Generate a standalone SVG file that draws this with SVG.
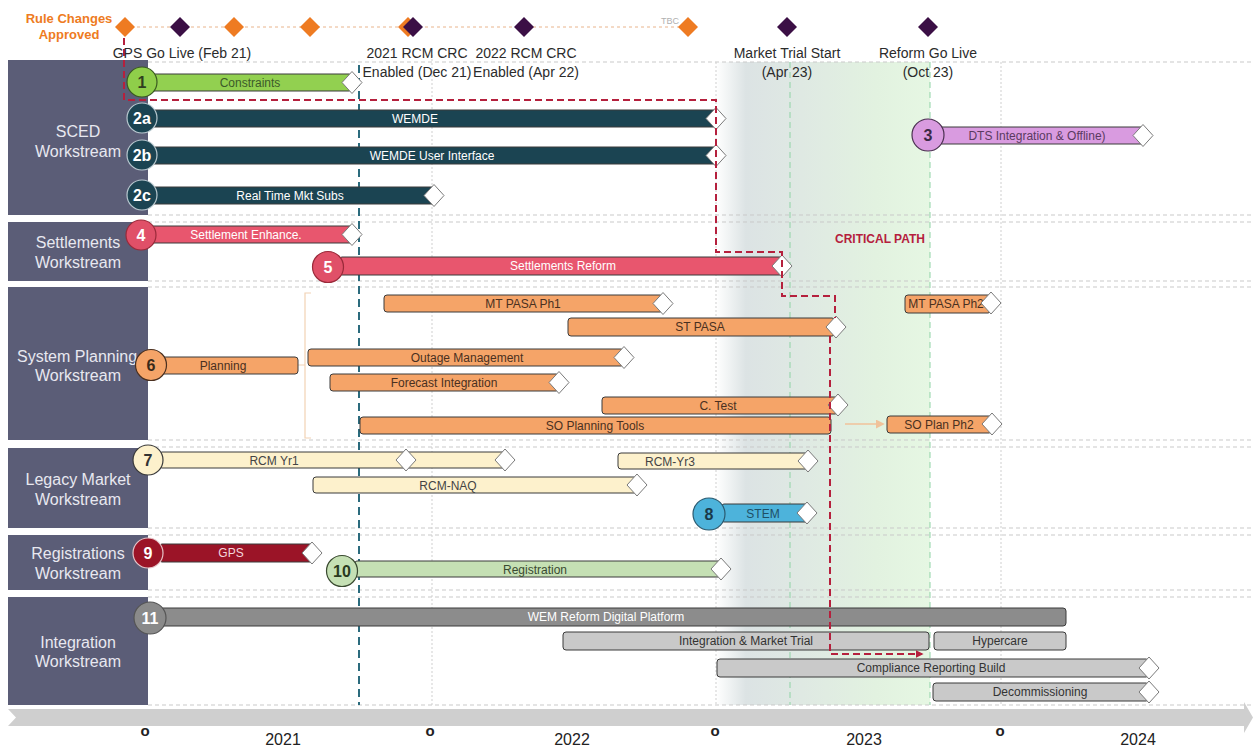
<svg xmlns="http://www.w3.org/2000/svg" width="1253" height="746" viewBox="0 0 1253 746">
<style>
text{font-family:"Liberation Sans",Arial,sans-serif}
.panel{fill:#5b5d77}
.ptxt{fill:#e8e8f0;font-size:16px;text-anchor:middle}
.grid{stroke:#c9c9c9;stroke-width:1;stroke-dasharray:4 3;fill:none}
.vgrid{stroke:#cfcfcf;stroke-width:1;stroke-dasharray:2 2;fill:none}
.gline{stroke:#8fd3a6;stroke-width:1;stroke-dasharray:6 4;fill:none}
.teal{stroke:#2b6b7d;stroke-width:2;stroke-dasharray:8 5;fill:none}
.bar{stroke:#3a3a3a;stroke-width:1}
.btxt{font-size:12px;text-anchor:middle}
.num{font-size:16px;font-weight:bold;text-anchor:middle}
.end{fill:#fff;stroke:#7a7a7a;stroke-width:1}
.ms{font-size:14px;fill:#2b2b2b;text-anchor:middle}
.crit{stroke:#b5203d;stroke-width:2;stroke-dasharray:7 4;fill:none}
.orange{fill:#ee7b22}
.purple{fill:#3b0f45}
.yr{font-size:16px;fill:#222;text-anchor:middle}
.tick{font-size:15px;font-weight:bold;fill:#222;text-anchor:middle}
.green{fill:#92d050}
.teald{fill:#1b4452}
.violet{fill:#d99be0}
.pink{fill:#e8566e}
.org{fill:#f5a468}
.cream{fill:#fdf1cc}
.sky{fill:#4db3db}
.maroon{fill:#9b1427}
.lgreen{fill:#c5e0b4}
.dgray{fill:#8c8c8c}
.lgray{fill:#c9c9c9}
</style>
<defs>
<linearGradient id="sh" x1="0" y1="0" x2="1" y2="0">
<stop offset="0" stop-color="#ffffff"/>
<stop offset="0.14" stop-color="#dce3e4"/>
<stop offset="0.4" stop-color="#dfe9e3"/>
<stop offset="0.75" stop-color="#e2f2e0"/>
<stop offset="1" stop-color="#e6f7e3"/>
</linearGradient>
<polygon id="dia" class="end" points="-10,0 0,-11 10,0 0,11"/>
<polygon id="mdia" points="-10,0 0,-10 10,0 0,10"/>
<marker id="ar" viewBox="0 0 10 10" refX="8" refY="5" markerWidth="4" markerHeight="4" orient="auto"><path d="M0,0 L10,5 L0,10z" fill="#b5203d"/></marker>
<marker id="ar2" viewBox="0 0 10 10" refX="8" refY="5" markerWidth="6" markerHeight="6" orient="auto"><path d="M0,0 L10,5 L0,10z" fill="#f0c29a"/></marker>
</defs>

<rect width="1253" height="746" fill="#ffffff"/>
<rect x="716" y="62" width="214" height="643" fill="url(#sh)"/>

<g id="gridlines">
<path class="grid" d="M148,62H1253M148,215H1253M148,222H1253M148,281H1253M148,287H1253M148,440H1253M148,447H1253M148,528H1253M148,535H1253M148,590H1253M148,597H1253M148,705H1253"/>
<path class="vgrid" d="M432,55V705M716,62V705M1001,62V705"/>
<path class="gline" d="M790,62V705M930,62V705"/>
<path class="teal" d="M359,65V705"/>
</g>

<g id="timeline">
<polygon points="8,709 1244,709 1244,702 1253,717.5 1244,733 1244,726 8,726 16,717.5" fill="#cfcfcf"/>
<text class="tick" x="145" y="736">o</text>
<text class="tick" x="430" y="736">o</text>
<text class="tick" x="715" y="736">o</text>
<text class="tick" x="1000" y="736">o</text>
<text class="yr" x="283" y="745">2021</text>
<text class="yr" x="572" y="745">2022</text>
<text class="yr" x="864" y="745">2023</text>
<text class="yr" x="1138" y="745">2024</text>
</g>

<g id="ws-sced"><rect class="panel" x="8" y="60" width="140" height="155"/><text class="ptxt" x="78" y="136.5">SCED</text><text class="ptxt" x="78" y="156.5">Workstream</text></g>
<g id="ws-settlements"><rect class="panel" x="8" y="222" width="140" height="59"/><text class="ptxt" x="78" y="248">Settlements</text><text class="ptxt" x="78" y="268">Workstream</text></g>
<g id="ws-planning"><rect class="panel" x="8" y="287" width="140" height="153"/><text class="ptxt" x="77" y="362">System Planning</text><text class="ptxt" x="78" y="381">Workstream</text></g>
<g id="ws-legacy"><rect class="panel" x="8" y="448" width="140" height="80"/><text class="ptxt" x="78" y="485">Legacy Market</text><text class="ptxt" x="78" y="505">Workstream</text></g>
<g id="ws-registrations"><rect class="panel" x="8" y="535" width="140" height="55"/><text class="ptxt" x="78" y="559">Registrations</text><text class="ptxt" x="78" y="579">Workstream</text></g>
<g id="ws-integration"><rect class="panel" x="8" y="597" width="140" height="108"/><text class="ptxt" x="78" y="648">Integration</text><text class="ptxt" x="78" y="667">Workstream</text></g>

<g id="n1"><rect class="bar green" x="148" y="74" width="204" height="17" rx="3"/><text class="btxt" x="250" y="86.5" fill="#3d5a2a">Constraints</text><use href="#dia" x="352" y="82.5"/><circle cx="142" cy="82" r="15" fill="#8fce4a" stroke="#3a5a20" stroke-width="1.2"/><text class="num" x="142" y="88" fill="#2f3f20">1</text></g>
<g id="n2a"><rect class="bar teald" x="148" y="110" width="568" height="17" rx="2"/><text class="btxt" x="415" y="122.5" fill="#ffffff">WEMDE</text><use href="#dia" x="716" y="118.5"/><circle cx="142" cy="118" r="15" fill="#1b4452" stroke="#b8c8cf" stroke-width="1.2"/><text class="num" x="142" y="124" fill="#ffffff">2a</text></g>
<g id="n2b"><rect class="bar teald" x="148" y="147" width="568" height="17" rx="2"/><text class="btxt" x="432" y="159.5" fill="#ffffff">WEMDE User Interface</text><use href="#dia" x="716" y="155.5"/><circle cx="142" cy="155" r="15" fill="#1b4452" stroke="#b8c8cf" stroke-width="1.2"/><text class="num" x="142" y="161" fill="#ffffff">2b</text></g>
<g id="n2c"><rect class="bar teald" x="148" y="187" width="286" height="17" rx="2"/><text class="btxt" x="290" y="199.5" fill="#ffffff">Real Time Mkt Subs</text><use href="#dia" x="434" y="195.5"/><circle cx="142" cy="195" r="15" fill="#1b4452" stroke="#b8c8cf" stroke-width="1.2"/><text class="num" x="142" y="201" fill="#ffffff">2c</text></g>
<g id="n3"><rect class="bar violet" x="940" y="127" width="203" height="17" rx="2"/><text class="btxt" x="1037" y="139.5" fill="#5a3a60">DTS Integration &amp; Offline)</text><use href="#dia" x="1143" y="135.5"/><circle cx="928" cy="135" r="16" fill="#d99be0" stroke="#4a3050" stroke-width="1.2"/><text class="num" x="928" y="141" fill="#3a2a45">3</text></g>

<g id="n4"><rect class="bar pink" x="148" y="226" width="204" height="17" rx="2"/><text class="btxt" x="246" y="238.5" fill="#ffffff">Settlement Enhance.</text><use href="#dia" x="352" y="234.5"/><circle cx="141" cy="235" r="15" fill="#e05068" stroke="#9a2a3a" stroke-width="1.2"/><text class="num" x="141" y="241" fill="#ffffff">4</text></g>
<g id="n5"><rect class="bar pink" x="340" y="257" width="442" height="18" rx="2"/><text class="btxt" x="563" y="270" fill="#ffffff">Settlements Reform</text><use href="#dia" x="782" y="266"/><circle cx="328" cy="267" r="15.5" fill="#e05068" stroke="#9a2a3a" stroke-width="1.2"/><text class="num" x="328" y="273" fill="#ffffff">5</text></g>

<g id="n6"><path d="M298,365H305M311,293H305V438H311" fill="none" stroke="#f2d2b4" stroke-width="1.2"/><rect class="bar org" x="160" y="357" width="138" height="17" rx="3"/><text class="btxt" x="223" y="369.5" fill="#4a3020">Planning</text><circle cx="151" cy="365" r="15.5" fill="#f5a468" stroke="#4a3020" stroke-width="1.2"/><text class="num" x="151" y="371" fill="#3a2a1a">6</text></g>
<g id="mtpasa1"><rect class="bar org" x="384" y="295" width="279" height="17" rx="3"/><text class="btxt" x="523" y="307.5" fill="#4a3020">MT PASA Ph1</text><use href="#dia" x="663" y="303.5"/></g>
<g id="stpasa"><rect class="bar org" x="568" y="318" width="267" height="18" rx="3"/><text class="btxt" x="700" y="331" fill="#4a3020">ST PASA</text><use href="#dia" x="836" y="327"/></g>
<g id="outage"><rect class="bar org" x="308" y="349" width="316" height="17" rx="3"/><text class="btxt" x="467" y="361.5" fill="#4a3020">Outage Management</text><use href="#dia" x="624" y="357.5"/></g>
<g id="forecast"><rect class="bar org" x="330" y="374" width="229" height="17" rx="3"/><text class="btxt" x="444" y="386.5" fill="#4a3020">Forecast Integration</text><use href="#dia" x="559" y="382.5"/></g>
<g id="ctest"><rect class="bar org" x="602" y="397" width="236" height="17" rx="3"/><text class="btxt" x="718" y="409.5" fill="#4a3020">C. Test</text><use href="#dia" x="838" y="405"/></g>
<g id="soplan"><rect class="bar org" x="360" y="417" width="471" height="17" rx="3"/><text class="btxt" x="595" y="429.5" fill="#4a3020">SO Planning Tools</text></g>
<g id="mtpasa2"><rect class="bar org" x="905" y="295" width="86" height="18" rx="3"/><text class="btxt" x="946" y="308" fill="#4a3020">MT PASA Ph2</text><use href="#dia" x="991" y="303"/></g>
<g id="soplan2"><rect class="bar org" x="887" y="416" width="105" height="17" rx="3"/><text class="btxt" x="939" y="428.5" fill="#4a3020">SO Plan Ph2</text><use href="#dia" x="992" y="424"/></g>

<g id="n7"><rect class="bar cream" x="160" y="452" width="345" height="16" rx="2"/><text class="btxt" x="274" y="464.5" fill="#444444">RCM Yr1</text><use href="#dia" x="406" y="460"/><use href="#dia" x="505" y="460"/><circle cx="148" cy="460" r="15" fill="#fdf1cc" stroke="#3a3a3a" stroke-width="1.2"/><text class="num" x="148" y="466" fill="#333333">7</text></g>
<g id="rcmnaq"><rect class="bar cream" x="313" y="477" width="324" height="16" rx="3"/><text class="btxt" x="448" y="489.5" fill="#444444">RCM-NAQ</text><use href="#dia" x="637" y="485"/></g>
<g id="rcmyr3"><rect class="bar cream" x="618" y="453" width="190" height="16" rx="3"/><text class="btxt" x="670" y="465.5" fill="#444444">RCM-Yr3</text><use href="#dia" x="808" y="461"/></g>
<g id="n8"><rect class="bar sky" x="722" y="504" width="85" height="18" rx="2"/><text class="btxt" x="763" y="517.5" fill="#1f4f66">STEM</text><use href="#dia" x="807" y="513"/><circle cx="709" cy="514" r="16" fill="#4db3db" stroke="#2a5a70" stroke-width="1.2"/><text class="num" x="709" y="520" fill="#1a3a4a">8</text></g>

<g id="n9"><rect class="bar maroon" x="160" y="544" width="152" height="18" rx="2"/><text class="btxt" x="231" y="557" fill="#f3d6dc">GPS</text><use href="#dia" x="312" y="553"/><circle cx="148" cy="553" r="15" fill="#9b1427" stroke="#e6c4c8" stroke-width="1.2"/><text class="num" x="148" y="559" fill="#ffffff">9</text></g>
<g id="n10"><rect class="bar lgreen" x="355" y="561" width="365" height="16" rx="2"/><text class="btxt" x="535" y="573.5" fill="#3a4a30">Registration</text><use href="#dia" x="721" y="569"/><circle cx="342" cy="571" r="15.5" fill="#c5e0b4" stroke="#3a4a30" stroke-width="1.2"/><text class="num" x="342" y="577" fill="#2a3a20">10</text></g>

<g id="n11"><rect class="bar dgray" x="160" y="608" width="906" height="18" rx="3"/><text class="btxt" x="606" y="621" fill="#ffffff">WEM Reform Digital Platform</text><circle cx="150" cy="618" r="16" fill="#8a8a8a" stroke="#555555" stroke-width="1.2"/><text class="num" x="150" y="624" fill="#ffffff">11</text></g>
<g id="intmt"><rect class="bar lgray" x="563" y="632" width="366" height="18" rx="3"/><text class="btxt" x="746" y="645" fill="#333333">Integration &amp; Market Trial</text></g>
<g id="hypercare"><rect class="bar lgray" x="934" y="632" width="132" height="18" rx="3"/><text class="btxt" x="1000" y="645" fill="#333333">Hypercare</text></g>
<g id="compliance"><rect class="bar lgray" x="717" y="659" width="432" height="18" rx="3"/><text class="btxt" x="931" y="672" fill="#333333">Compliance Reporting Build</text><use href="#dia" x="1149" y="668"/></g>
<g id="decom"><rect class="bar lgray" x="933" y="683" width="216" height="18" rx="3"/><text class="btxt" x="1040" y="696" fill="#333333">Decommissioning</text><use href="#dia" x="1149" y="692"/></g>

<g id="connectors">
<path class="crit" d="M124,38V100H716V252H782V296H835V318M830,336V654H922" marker-end="url(#ar)"/>
<path d="M845,424H883" stroke="#f0c29a" stroke-width="1.5" fill="none" marker-end="url(#ar2)"/>
<path d="M125,27H688" stroke="#e9b48c" stroke-width="1" stroke-dasharray="3 3" fill="none"/>
</g>
<text x="880" y="243" font-size="12" font-weight="bold" fill="#b5203d" text-anchor="middle">CRITICAL PATH</text>

<g id="milestones">
<use href="#mdia" class="orange" x="125" y="27"/>
<use href="#mdia" class="purple" x="180" y="27"/>
<use href="#mdia" class="orange" x="234" y="27"/>
<use href="#mdia" class="orange" x="310" y="27"/>
<use href="#mdia" class="orange" x="408" y="27"/>
<use href="#mdia" class="purple" x="413" y="27"/>
<use href="#mdia" class="purple" x="524" y="27"/>
<use href="#mdia" class="orange" x="688" y="27"/>
<use href="#mdia" class="purple" x="787" y="27"/>
<use href="#mdia" class="purple" x="928" y="27"/>
<text x="670" y="24" font-size="9" fill="#b0b0b0" text-anchor="middle">TBC</text>
<text x="69" y="23" font-size="13" font-weight="bold" fill="#ee7b22" text-anchor="middle">Rule Changes</text>
<text x="69" y="39" font-size="13" font-weight="bold" fill="#ee7b22" text-anchor="middle">Approved</text>
<text class="ms" x="182" y="58">GPS Go Live (Feb 21)</text>
<text class="ms" x="417" y="58">2021 RCM CRC</text>
<text class="ms" x="417" y="77">Enabled (Dec 21)</text>
<text class="ms" x="526" y="58">2022 RCM CRC</text>
<text class="ms" x="526" y="77">Enabled (Apr 22)</text>
<text class="ms" x="787" y="58">Market Trial Start</text>
<text class="ms" x="787" y="77">(Apr 23)</text>
<text class="ms" x="928" y="58">Reform Go Live</text>
<text class="ms" x="928" y="77">(Oct 23)</text>
</g>
</svg>
